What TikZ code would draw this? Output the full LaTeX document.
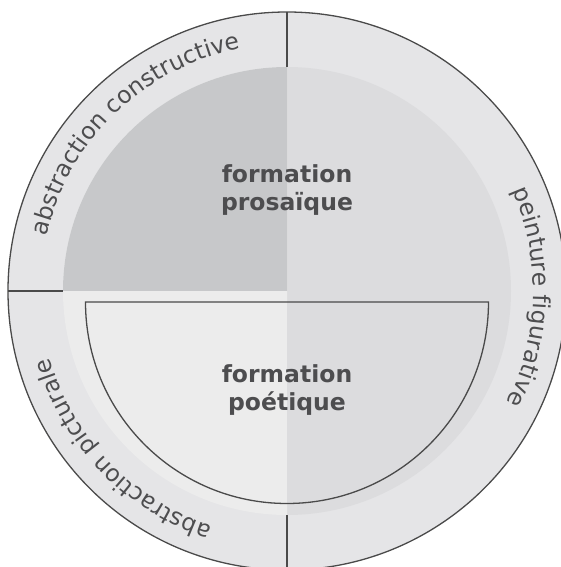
\documentclass[tikz,border=0pt]{standalone}
\usepackage{fontspec}
\setmainfont{DejaVu Sans}
\usetikzlibrary{decorations.text}
\definecolor{ringfill}{HTML}{E5E5E7}
\definecolor{quadUL}{HTML}{C7C8CA}
\definecolor{halfR}{HTML}{DCDCDE}
\definecolor{halfL}{HTML}{ECECEC}
\definecolor{linecol}{HTML}{4A4A4A}
\definecolor{txt}{HTML}{4D4D4F}
\begin{document}
\begin{tikzpicture}[x=1pt,y=1pt,
  sep/.style={draw=linecol, line width=1.3pt},
  centertext/.style={font=\fontsize{23.5}{28.4}\selectfont\bfseries, text=txt, anchor=base, inner sep=0pt},
  ringlabel/.style={decorate, decoration={text along path, text align=center, text color=txt,
      text={|\fontsize{23.5}{28}\selectfont|#1}}}]
\useasboundingbox (-287,-276) rectangle (274,291);
% outer ring
\fill[ringfill] (0,0) circle (279);
% inner disk
\fill[halfR] (0,-224) arc (-90:90:224) -- cycle;
\fill[halfL] (0,-224) arc (270:90:224) -- cycle;
\fill[quadUL] (0,0) -- (-224,0) arc (180:90:224) -- cycle;
% semicircle (formation poétique)
\fill[halfL] (-201.5,-11) -- (0,-11) -- (0,-212.5) arc (270:180:201.5) -- cycle;
\fill[halfR] (201.5,-11) -- (0,-11) -- (0,-212.5) arc (-90:0:201.5) -- cycle;
\draw[sep] (-201.5,-11) -- (201.5,-11) arc (0:-180:201.5) -- cycle;
% separators
\coordinate (topin) at (0,224);
\coordinate (topout) at (0,279);
\coordinate (leftin) at (-224,0);
\coordinate (leftout) at (-279,0);
\coordinate (botin) at (0,-224);
\coordinate (botout) at (0,-279);
\draw[sep] (topin) -- (topout);
\draw[sep] (leftin) -- (leftout);
\draw[sep] (botin) -- (botout);
\draw[sep] (0,0) circle (279);
% centre labels
\node[centertext] (pro1) at (0,108.7) {formation};
\node[centertext] (pro2) at (0,80.3) {prosaïque};
\node[centertext] (poe1) at (0,-91.3) {formation};
\node[centertext] (poe2) at (0,-119.7) {poétique};
% ring labels
\path[ringlabel={abstraction constructive}] (179:246.5) arc (179:89:246.5);
\path[ringlabel={peinture figurative}] (43.5:246.5) arc (43.5:-46.5:246.5);
\path[ringlabel={abstraction picturale}] (-91:246.5) arc (-91:-181:246.5);
\end{tikzpicture}
\end{document}
